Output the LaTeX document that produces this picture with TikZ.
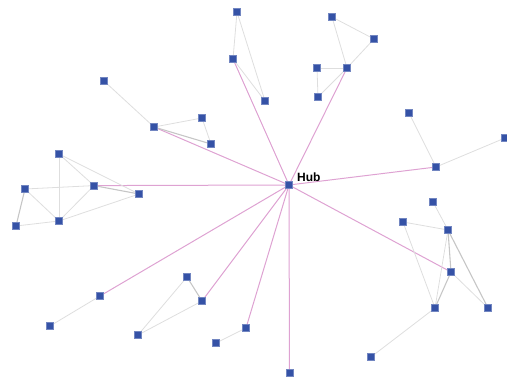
\documentclass[tikz,border=0pt]{standalone}
\usepackage{fontspec}
\setmainfont{Liberation Sans}
\definecolor{nodeblue}{HTML}{3552A6}
\definecolor{hublink}{HTML}{DEA2D2}
\definecolor{lightlink}{HTML}{DEDEDE}
\definecolor{darklink}{HTML}{C6C6C6}
\begin{document}
\begin{tikzpicture}[x=1pt,y=-1pt,
  vtx/.style={draw=nodeblue!70!white,fill=nodeblue,minimum size=7pt,inner sep=0pt,line width=0.4pt},
  spoke/.style={draw=hublink,line width=1pt},
  link/.style={draw=lightlink,line width=0.8pt},
  heavylink/.style={draw=darklink,line width=1.1pt}]
\useasboundingbox (0,0) rectangle (507,380);

\path
 (289,185) coordinate (hub)
 (237,12) coordinate (a) (233,59) coordinate (b) (104,81) coordinate (c)
 (154,127) coordinate (d) (202,118) coordinate (e) (211,144) coordinate (f)
 (59,154) coordinate (g) (94,185.6) coordinate (h) (25,189) coordinate (i)
 (332,17) coordinate (j) (374,39) coordinate (k) (347,68) coordinate (l)
 (317,68) coordinate (m) (318,97) coordinate (n) (265,101) coordinate (o)
 (409,113) coordinate (p) (436,167) coordinate (q) (505,138) coordinate (r)
 (16,226) coordinate (s) (59,221) coordinate (t) (139,194) coordinate (u)
 (100,296) coordinate (v) (50,326) coordinate (w) (187,277) coordinate (x)
 (202,301) coordinate (y) (138,335) coordinate (z) (246,328) coordinate (aa)
 (216,343) coordinate (ab) (433,202) coordinate (ac) (403,222) coordinate (ad)
 (448,230) coordinate (ae) (451,272) coordinate (af) (435,308) coordinate (ag)
 (488,308) coordinate (ah) (371,357) coordinate (ai) (289.5,373) coordinate (aj);

% spokes from the hub
\foreach \tgt in {b,d,h,l,q,v,y,aa,aj,af}
  \draw[spoke] (hub) -- (\tgt);

% ordinary links
\foreach \u/\v in {a/b,a/o,b/o,c/d,d/e,e/f,
  g/t,g/h,g/u,i/h,i/t,s/t,t/h,t/u,
  j/k,j/l,k/l,l/m,m/n,n/l,p/q,q/r,
  w/v,x/z,z/y,aa/ab,
  ac/ae,ad/ae,ad/ag,ae/ag,af/ah,ag/ai}
  \draw[link] (\u) -- (\v);

% stronger links
\foreach \u/\v in {d/f,h/u,i/s,x/y,ae/af,ae/ah,af/ag}
  \draw[heavylink] (\u) -- (\v);

% vertices
\foreach \n in {hub,a,b,c,d,e,f,g,h,i,j,k,l,m,n,o,p,q,r,s,t,u,v,w,x,y,z,aa,ab,ac,ad,ae,af,ag,ah,ai,aj}
  \node[vtx] (v\n) at (\n) {};

\node[anchor=south west,inner sep=0pt,font=\bfseries\fontsize{12}{14}\selectfont] (hublabel) at (297,182) {Hub};
\end{tikzpicture}
\end{document}
